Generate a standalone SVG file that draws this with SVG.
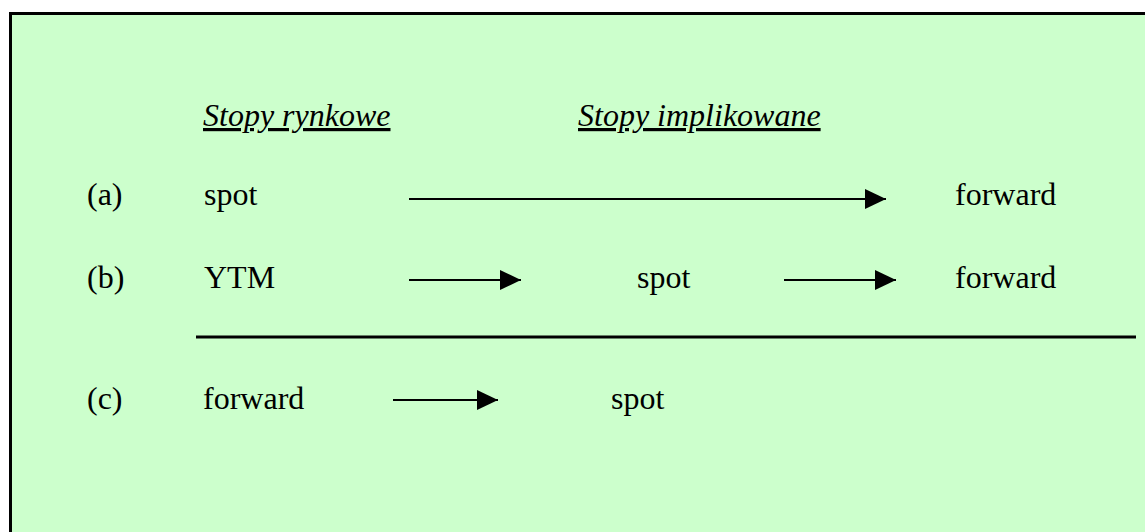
<svg xmlns="http://www.w3.org/2000/svg" width="1145" height="532" viewBox="0 0 1145 532">
  <style>
    .t { font-family: "Liberation Serif", "Times New Roman", serif; font-size: 32px; fill: #000; }
    .h { font-style: italic; text-decoration: underline; }
    .arr { stroke: #000; stroke-width: 2; fill: none; marker-end: url(#ah); }
  </style>
  <defs>
    <marker id="ah" viewBox="0 0 21 20" refX="21" refY="10" markerWidth="21" markerHeight="20" markerUnits="userSpaceOnUse" orient="auto">
      <path d="M0,0 L21,10 L0,20 Z" fill="#000"/>
    </marker>
  </defs>
  <rect id="frame" x="10.5" y="13.5" width="1150" height="530" fill="#CCFFCC" stroke="#000" stroke-width="3"/>

  <g id="header-market"><text class="t h" x="203" y="126">Stopy rynkowe</text></g>
  <g id="header-implied"><text class="t h" x="578" y="126">Stopy implikowane</text></g>

  <g id="label-a"><text class="t" x="87" y="205">(a)</text></g>
  <g id="a-spot"><text class="t" x="204" y="205">spot</text></g>
  <g id="a-forward"><text class="t" x="955" y="205">forward</text></g>

  <g id="label-b"><text class="t" x="87" y="288">(b)</text></g>
  <g id="b-ytm"><text class="t" x="204" y="288">YTM</text></g>
  <g id="b-spot"><text class="t" x="637" y="288">spot</text></g>
  <g id="b-forward"><text class="t" x="955" y="288">forward</text></g>

  <g id="separator"><line x1="196" y1="337" x2="1136" y2="337" stroke="#000" stroke-width="3"/></g>

  <g id="label-c"><text class="t" x="87" y="409">(c)</text></g>
  <g id="c-forward"><text class="t" x="203" y="409">forward</text></g>
  <g id="c-spot"><text class="t" x="611" y="409">spot</text></g>

  <g id="connectors">
    <line class="arr" x1="409" y1="199" x2="886" y2="199"/>
    <line class="arr" x1="409" y1="280" x2="521" y2="280"/>
    <line class="arr" x1="784" y1="280" x2="896" y2="280"/>
    <line class="arr" x1="393" y1="400" x2="498" y2="400"/>
  </g>
</svg>
